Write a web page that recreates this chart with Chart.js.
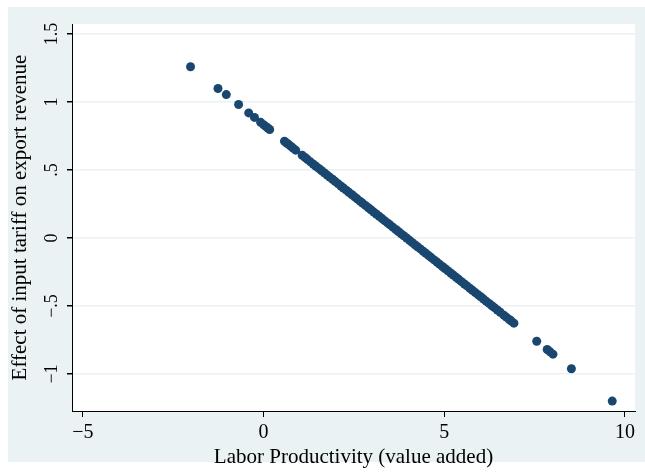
<!DOCTYPE html>
<html>
<head>
<meta charset="utf-8">
<script src="https://cdn.jsdelivr.net/npm/chart.js@4/dist/chart.umd.min.js"></script>
<style>
  body { margin: 0; background: #fff; }
  canvas { display: block; }
</style>
</head>
<body>
<canvas id="grafico" width="645" height="472"></canvas>
<script>
// productividad laboral (x) y efecto del arancel (y)
var prodX = [-2.02, -1.26, -1.03, -0.69, -0.41, -0.25, -0.08, 0.00, 0.06, 0.12, 0.17,
  0.58, 0.64, 0.70, 0.76, 0.82, 0.89,
  1.07, 1.15, 1.22, 1.30, 1.38, 1.45, 1.53, 1.60, 1.68, 1.76, 1.83, 1.91, 1.98,
  2.06, 2.14, 2.21, 2.29, 2.36, 2.44, 2.52, 2.59, 2.67, 2.74, 2.82, 2.90, 2.97,
  3.05, 3.12, 3.20, 3.28, 3.35, 3.43, 3.50, 3.58, 3.66, 3.73, 3.81, 3.88, 3.96,
  4.04, 4.11, 4.19, 4.26, 4.34, 4.42, 4.49, 4.57, 4.64, 4.72, 4.80, 4.87, 4.95,
  5.02, 5.10, 5.18, 5.25, 5.33, 5.40, 5.48, 5.56, 5.63, 5.71, 5.78, 5.86, 5.94,
  6.01, 6.09, 6.16, 6.24, 6.32, 6.39, 6.47, 6.55, 6.65, 6.72, 6.80, 6.86, 6.93,
  7.56, 7.85, 7.93, 8.01, 8.52, 9.65];
var efectoY = [1.260, 1.100, 1.055, 0.982, 0.920, 0.887, 0.851, 0.834, 0.821, 0.809, 0.798,
  0.712, 0.699, 0.687, 0.674, 0.661, 0.646,
  0.609, 0.592, 0.577, 0.560, 0.543, 0.528, 0.512, 0.497, 0.480, 0.463, 0.448, 0.432, 0.417,
  0.400, 0.383, 0.368, 0.352, 0.337, 0.320, 0.303, 0.288, 0.271, 0.257, 0.240, 0.223, 0.208,
  0.191, 0.177, 0.160, 0.143, 0.128, 0.111, 0.097, 0.080, 0.063, 0.048, 0.031, 0.017, 0.000,
  -0.017, -0.032, -0.049, -0.064, -0.080, -0.097, -0.112, -0.129, -0.144, -0.161, -0.177, -0.192, -0.209,
  -0.224, -0.241, -0.257, -0.272, -0.289, -0.304, -0.321, -0.338, -0.352, -0.369, -0.384, -0.401, -0.418,
  -0.432, -0.449, -0.464, -0.481, -0.498, -0.512, -0.529, -0.546, -0.567, -0.582, -0.599, -0.611, -0.626,
  -0.759, -0.820, -0.837, -0.854, -0.961, -1.199];

var xTickVals = [-5, 0, 5, 10];
var xTickLabels = ['\u22125', '0', '5', '10'];
var yTickVals = [-1, -0.5, 0, 0.5, 1, 1.5];
var yTickLabels = ['\u22121', '\u2212.5', '0', '.5', '1', '1.5'];

var FUENTE = '"Liberation Serif", "Times New Roman", serif';
var puntos = prodX.map(function (x, i) { return { x: x, y: efectoY[i] }; });

// fondo estilo stata y etiquetas verticales del eje y
var fondo = {
  id: 'fondo',
  beforeDraw: function (chart) {
    var ctx = chart.ctx, a = chart.chartArea;
    ctx.save();
    ctx.fillStyle = '#ffffff';
    ctx.fillRect(0, 0, chart.width, chart.height);
    ctx.fillStyle = '#eaf2f3';
    ctx.fillRect(8, 7, chart.width - 8, 455);
    ctx.fillStyle = '#ffffff';
    ctx.fillRect(a.left, a.top, a.right - a.left, a.bottom - a.top);
    ctx.restore();
  },
  afterDraw: function (chart) {
    var ctx = chart.ctx, sy = chart.scales.y;
    ctx.save();
    ctx.font = '18px ' + FUENTE;
    ctx.fillStyle = '#000';
    ctx.textAlign = 'center';
    ctx.textBaseline = 'middle';
    yTickVals.forEach(function (v, i) {
      var py = sy.getPixelForValue(v);
      ctx.save();
      ctx.translate(52, py);
      ctx.rotate(-Math.PI / 2);
      ctx.fillText(yTickLabels[i], 0, 0);
      ctx.restore();
    });
    ctx.restore();
  }
};

var grafico = new Chart(document.getElementById('grafico'), {
  type: 'scatter',
  data: {
    datasets: [{
      data: puntos,
      backgroundColor: '#1a476f',
      borderWidth: 0,
      pointRadius: 4.5
    }]
  },
  options: {
    responsive: false,
    animation: false,
    layout: { padding: { left: 0, top: 24, right: 10, bottom: 0 } },
    plugins: { legend: { display: false }, tooltip: { enabled: false } },
    scales: {
      x: {
        type: 'linear',
        min: -5.3, max: 10.28,
        afterBuildTicks: function (s) { s.ticks = xTickVals.map(function (v) { return { value: v }; }); },
        afterFit: function (s) { s.height = 61; },
        ticks: {
          autoSkip: false, maxRotation: 0, padding: 4, color: '#000',
          font: { family: FUENTE, size: 20 },
          callback: function (v) { return xTickLabels[xTickVals.indexOf(v)]; }
        },
        grid: { drawOnChartArea: false, tickLength: 6, tickColor: '#000' },
        border: { color: '#000', width: 1 },
        title: {
          display: true, text: 'Labor Productivity (value added)', color: '#000',
          font: { family: FUENTE, size: 21 }, padding: { top: 0, bottom: 2 }
        }
      },
      y: {
        type: 'linear',
        min: -1.272, max: 1.574,
        afterBuildTicks: function (s) { s.ticks = yTickVals.map(function (v) { return { value: v }; }); },
        afterFit: function (s) { s.width = 72; },
        ticks: { display: false },
        grid: { color: '#eaf2f3', lineWidth: 1.5, tickLength: 5, tickColor: '#000' },
        border: { color: '#000', width: 1 },
        title: {
          display: true, text: 'Effect of input tariff on export revenue', color: '#000',
          font: { family: FUENTE, size: 21 }, padding: { top: 8, bottom: 0 }
        }
      }
    }
  },
  plugins: [fondo]
});
</script>
</body>
</html>
